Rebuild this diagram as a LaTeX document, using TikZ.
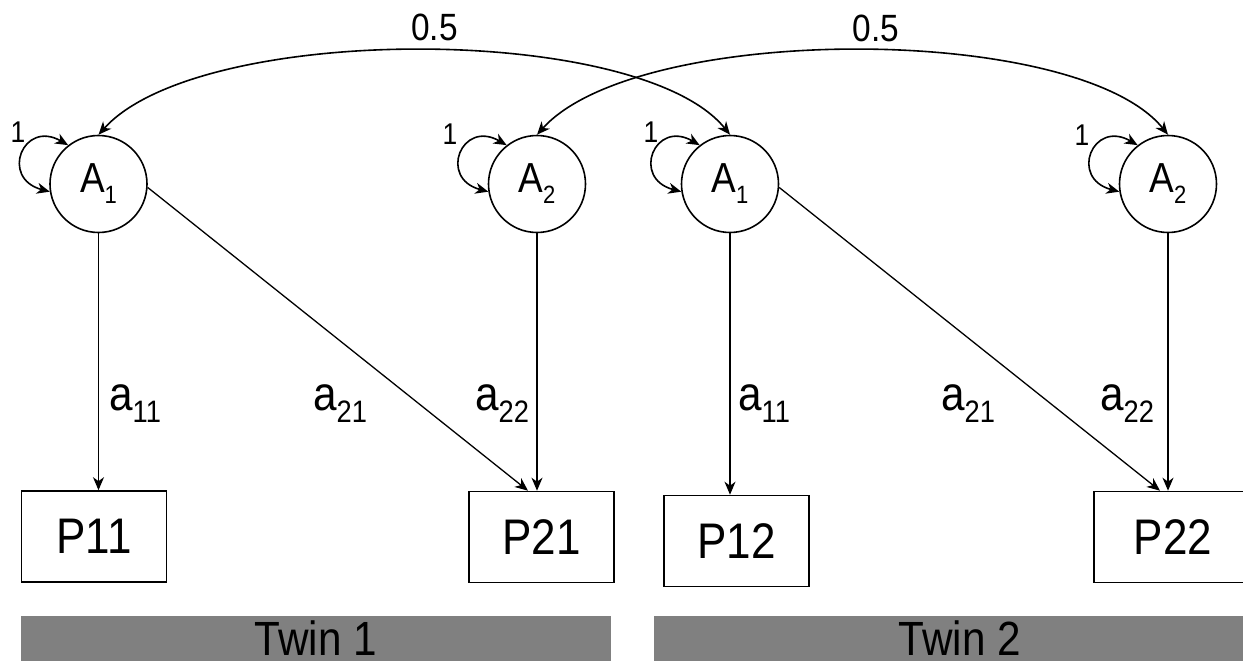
\documentclass[tikz,border=0pt]{standalone}
\usepackage{fontspec}
\setmainfont{Liberation Sans}[FakeStretch=0.88]
\usetikzlibrary{arrows.meta,calc}
\definecolor{barfill}{RGB}{128,128,128}
\newcommand{\fs}[1]{\fontsize{#1}{#1}\selectfont}
\tikzset{
  x=1pt, y=1pt,
  latent/.style={circle, draw, line width=1.6pt, minimum size=97pt, inner sep=0pt, font=\fs{42}},
  obs/.style={rectangle, draw, line width=1.6pt, minimum width=145pt, minimum height=91pt, inner sep=0pt, font=\fs{50}},
  twinbar/.style={rectangle, fill=barfill, minimum height=45pt, inner sep=0pt, font=\fs{48}},
  load/.style={-{Stealth[length=13pt,width=11pt,inset=4pt]}, line width=1.3pt},
  cov/.style={{Stealth[length=13pt,width=11pt,inset=4pt]}-{Stealth[length=13pt,width=11pt,inset=4pt]}, line width=1.6pt},
  one/.style={font=\fs{30}, inner sep=0pt},
  half/.style={font=\fs{38}, inner sep=0pt},
  coef/.style={font=\fs{48}, inner sep=0pt, anchor=base west},
}
\begin{document}
\begin{tikzpicture}
\useasboundingbox (0,-661) rectangle (1243,0);
\clip (0,-661) rectangle (1243,0);

% latent factors
\node[latent] (A1a) at (98.5,-184) {A\raisebox{-11pt}{\fs{25}1}};
\node[latent] (A2a) at (537,-184) {A\raisebox{-11pt}{\fs{25}2}};
\node[latent] (A1b) at (730,-184) {A\raisebox{-11pt}{\fs{25}1}};
\node[latent] (A2b) at (1168,-184) {A\raisebox{-11pt}{\fs{25}2}};

% observed variables
\node[obs] (P11) at (94,-536.5) {P11};
\node[obs] (P21) at (541.5,-537) {P21};
\node[obs] (P12) at (736.5,-541) {P12};
\node[obs, minimum width=158pt] (P22) at (1173,-537) {P22};

% twin bars
\node[twinbar, minimum width=590pt] (T1) at (316,-638.5) {\raisebox{1pt}{Twin 1}};
\node[twinbar, minimum width=612pt] (T2) at (960,-638.5) {\raisebox{1pt}{Twin 2}};

% self loops
\foreach \n/\lx/\ly in {A1a/18/-132, A2a/450/-134, A1b/651/-132, A2b/1082/-135} {
  \draw[cov] (\n.189) to[out=165,in=150,distance=52pt] (\n.128);
  \node[one] (l\n) at (\lx,\ly) {1};
}

% covariances between twins
\draw[cov] (A1a.north) to[out=48,in=129,out distance=151pt,in distance=144pt] (A1b.north);
\draw[cov] (A2a.north) to[out=48,in=129,out distance=151pt,in distance=144pt] (A2b.north);
\node[half] (h1) at (434.5,-27) {0.5};
\node[half] (h2) at (876,-28) {0.5};

% loadings
\draw[load] (A1a.south) -- (A1a.south |- P11.north);
\draw[load] (A2a.south) -- (A2a.south |- P21.north);
\draw[load] (A1a.-4) -- ($(P21.north)+(-13.5,0)$);
\draw[load] (A1b.south) -- (A1b.south |- P12.north);
\draw[load] (A2b.south) -- (A2b.south |- P22.north);
\draw[load] (A1b.-4) -- ($(P22.north)+(-13,0)$);

% loading labels
\node[coef] (c1) at (109,-410) {a\raisebox{-12pt}{\fs{31}11}};
\node[coef] (c2) at (313,-410) {a\raisebox{-12pt}{\fs{31}21}};
\node[coef] (c3) at (475,-410) {a\raisebox{-12pt}{\fs{31}22}};
\node[coef] (c4) at (738,-410) {a\raisebox{-12pt}{\fs{31}11}};
\node[coef] (c5) at (941,-410) {a\raisebox{-12pt}{\fs{31}21}};
\node[coef] (c6) at (1100,-410) {a\raisebox{-12pt}{\fs{31}22}};
\end{tikzpicture}
\end{document}
